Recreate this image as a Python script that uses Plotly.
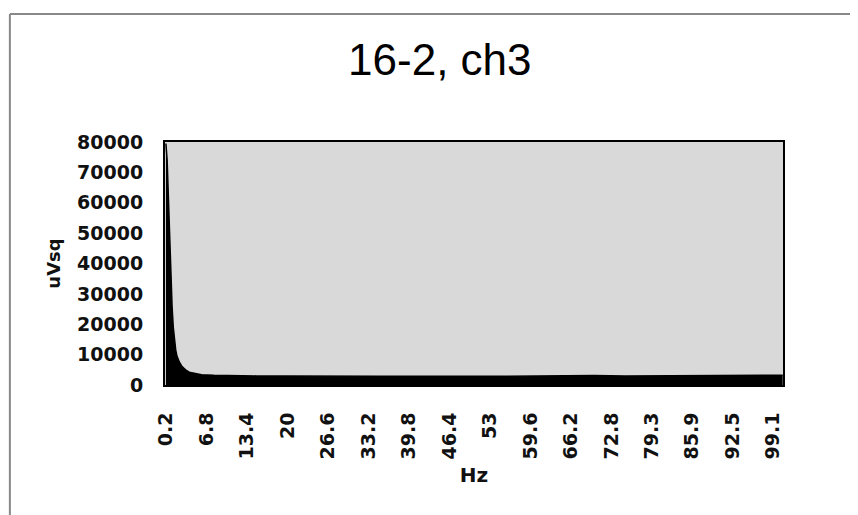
import plotly.graph_objects as go

# Frequency (Hz) and power (uVsq)
freq = [0.2, 0.4, 0.6, 0.8, 1.0, 1.2, 1.4, 1.6, 1.8, 2.0, 2.4, 2.8, 3.4, 4.0,
        5.0, 6.0, 8.0, 10.0, 15.0, 20.0, 25.0, 30.0, 35.0, 40.0, 45.0, 50.0,
        55.0, 60.0, 65.0, 70.0, 75.0, 80.0, 85.0, 90.0, 95.0, 100.7]
power = [79500, 74000, 62000, 48000, 36000, 26000, 19000, 14500, 11500, 9500,
         7500, 6200, 5000, 4200, 3700, 3400, 3200, 3100, 3000, 3000, 2900,
         3000, 2900, 2900, 3000, 2900, 2900, 3000, 3000, 3100, 3000, 3000,
         3100, 3100, 3200, 3200]

tick_vals = [0.2, 6.8, 13.4, 20, 26.6, 33.2, 39.8, 46.4, 53, 59.6, 66.2,
             72.8, 79.3, 85.9, 92.5, 99.1]
tick_text = ["0.2", "6.8", "13.4", "20", "26.6", "33.2", "39.8", "46.4", "53",
             "59.6", "66.2", "72.8", "79.3", "85.9", "92.5", "99.1"]
y_ticks = [0, 10000, 20000, 30000, 40000, 50000, 60000, 70000, 80000]

fig = go.Figure()
fig.add_trace(go.Scatter(
    x=freq, y=power, mode="lines", fill="tozeroy",
    line=dict(color="black", width=1.5), fillcolor="black",
    hoverinfo="skip", showlegend=False,
))

tick_font = dict(family="DejaVu Sans", size=19, color="#111111", weight="bold")

fig.update_layout(
    width=850, height=507,
    margin=dict(l=157, r=75, t=134, b=130),
    paper_bgcolor="white",
    plot_bgcolor="#d9d9d9",
    title=dict(text="16-2, ch3", x=0.508, xanchor="center", y=0.899,
               yanchor="middle",
               font=dict(family="Liberation Sans, Arial", size=44, color="black")),
    xaxis=dict(
        range=[0.05, 100.75], tickmode="array", tickvals=tick_vals,
        ticktext=tick_text, tickangle=-90, tickfont=tick_font,
        ticks="", ticklabelstandoff=18, showgrid=False, zeroline=False,
        showline=True, linecolor="black", linewidth=2, mirror=True,
        title=dict(text="Hz", standoff=10,
                   font=dict(family="DejaVu Sans", size=20, color="#111111",
                             weight="bold")),
    ),
    yaxis=dict(
        range=[0, 80000], tickmode="array", tickvals=y_ticks,
        ticktext=[str(v) for v in y_ticks], tickfont=tick_font,
        ticks="", ticklabelstandoff=16, showgrid=False, zeroline=False,
        showline=True, linecolor="black", linewidth=2, mirror=True,
        title=dict(text="uVsq", standoff=12,
                   font=dict(family="DejaVu Sans", size=18, color="#111111",
                             weight="bold")),
    ),
    shapes=[
        dict(type="line", xref="paper", yref="paper", x0=-0.251, x1=-0.251,
             y0=-0.6, y1=1.527, line=dict(color="#888888", width=2)),
        dict(type="line", xref="paper", yref="paper", x0=-0.251, x1=1.2,
             y0=1.527, y1=1.527, line=dict(color="#888888", width=2)),
    ],
)

fig.write_html("out.html")
